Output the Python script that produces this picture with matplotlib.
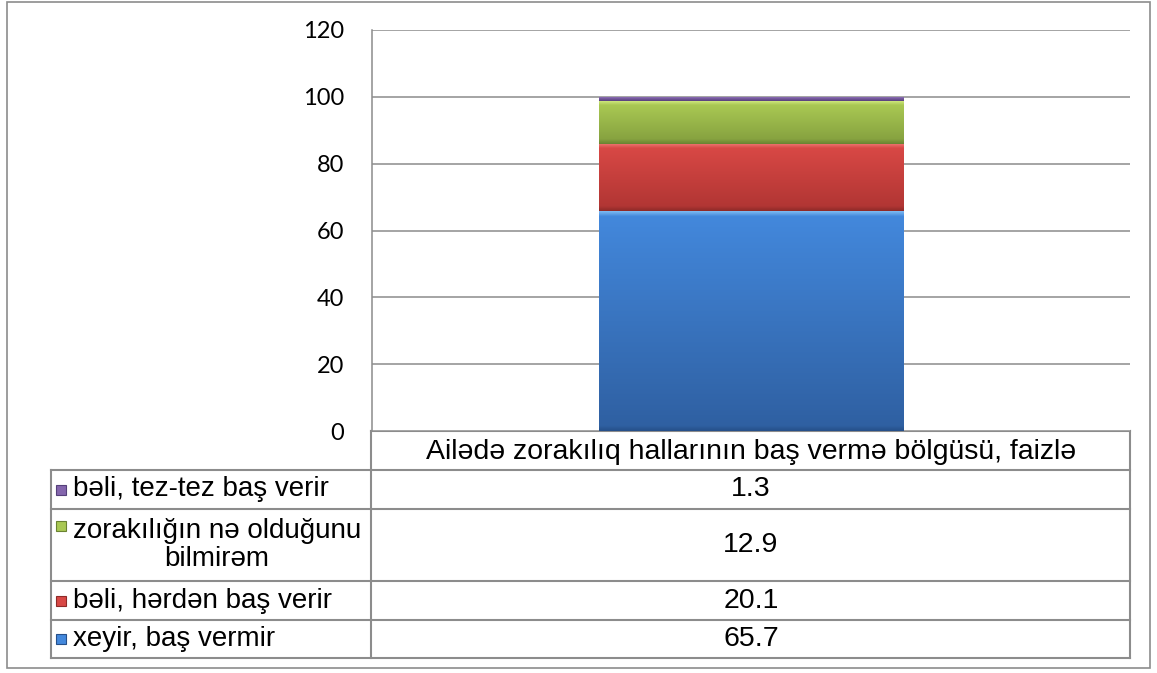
import numpy as np
import matplotlib.pyplot as plt
from matplotlib.colors import LinearSegmentedColormap
from matplotlib.patches import Rectangle

# data
category = "Ailədə zorakılıq hallarının baş vermə bölgüsü, faizlə"
series = ["xeyir, baş vermir", "bəli, hərdən baş verir",
          "zorakılığın nə olduğunu\nbilmirəm", "bəli, tez-tez baş verir"]
values = [65.7, 20.1, 12.9, 1.3]
yticks = [0, 20, 40, 60, 80, 100, 120]

# (highlight, top, bottom, dark edge)
shades = [
    ("#7ab8f2", "#4388dc", "#2f60a2", "#26508a"),
    ("#f07a76", "#d84845", "#b23634", "#8e2a28"),
    ("#d6ee86", "#a9c853", "#87a340", "#6a8232"),
    ("#a78bc8", "#8466ad", "#6a4f91", "#55407a"),
]

W, H = 1157, 673
fig = plt.figure(figsize=(W / 100, H / 100), dpi=100)
grey = "#8c8c8c"

ax = fig.add_axes([372 / W, 1 - 431 / H, (1130 - 372) / W, (431 - 30) / H])
ax.set_xlim(-0.5, 0.5)
ax.set_ylim(0, 120)
ax.set_yticks(yticks)
ax.set_xticks([])
ax.tick_params(axis="y", length=0, pad=20, labelsize=17)
for lab in ax.get_yticklabels():
    lab.set_fontfamily("Lato")
ax.grid(axis="y", color=grey, lw=1.1)
ax.set_axisbelow(True)
for s in ["top", "right", "bottom"]:
    ax.spines[s].set_visible(False)
ax.spines["left"].set_color(grey)
ax.spines["left"].set_linewidth(1.1)

px_per_unit = (431 - 30) / 120
bottom = 0
for v, sh in zip(values, shades):
    bars = ax.bar(0, v, width=0.402, bottom=bottom, color=sh[2], lw=0, zorder=3)
    p = bars.patches[0]
    h_px = max(v * px_per_unit, 1)
    e = min(0.3, 5 / h_px)
    cmap = LinearSegmentedColormap.from_list(
        "g", [(0, sh[0]), (e, sh[1]), (1 - e, sh[2]), (1, sh[3])])
    grad = np.linspace(0, 1, 256).reshape(-1, 1)
    im = ax.imshow(grad, cmap=cmap, aspect="auto", zorder=4, origin="upper",
                   extent=[p.get_x(), p.get_x() + p.get_width(), bottom, bottom + v])
    im.set_clip_path(p)
    bottom += v
ax.set_xlim(-0.5, 0.5)
ax.set_ylim(0, 120)

# table below the plot, in pixel coordinates
tab = fig.add_axes([0, 0, 1, 1], zorder=-1)
tab.set_xlim(0, W)
tab.set_ylim(H, 0)
tab.axis("off")

tab.add_patch(Rectangle((7, 2), 1143, 666, fill=False, ec=grey, lw=1.2))

rows = [470, 509, 581, 620, 658]
lw_t = 1.5
tab.plot([371, 1130], [431, 431], color=grey, lw=lw_t)
for y in rows:
    tab.plot([51, 1130], [y, y], color=grey, lw=lw_t)
tab.plot([51, 51], [rows[0], rows[-1]], color=grey, lw=lw_t)
tab.plot([371, 371], [431, rows[-1]], color=grey, lw=lw_t)
tab.plot([1130, 1130], [431, rows[-1]], color=grey, lw=lw_t)

fs = 20.5
tab.text(751, 452, category, ha="center", va="center", fontsize=fs,
         family="Liberation Sans")
order = list(range(len(series)))[::-1]
renderer = fig.canvas.get_renderer()
for i, k in enumerate(order):
    yc = (rows[i] + rows[i + 1]) / 2
    two = "\n" in series[k]
    ky = rows[i] + 17 if two else yc
    tab.add_patch(Rectangle((56, ky - 5), 10, 10, fc=shades[k][1],
                            ec=shades[k][3], lw=0.8))
    t = tab.text(73, yc, series[k], ha="left", va="center", fontsize=20,
                 family="Liberation Sans", multialignment="center",
                 linespacing=1.15)
    if two:
        bb = t.get_window_extent(renderer)
        t.set_x(73 + bb.width / 2)
        t.set_ha("center")
    tab.text(751, yc, f"{values[k]}", ha="center", va="center", fontsize=fs,
             family="Liberation Sans")

fig.savefig("out.png", dpi=100)
